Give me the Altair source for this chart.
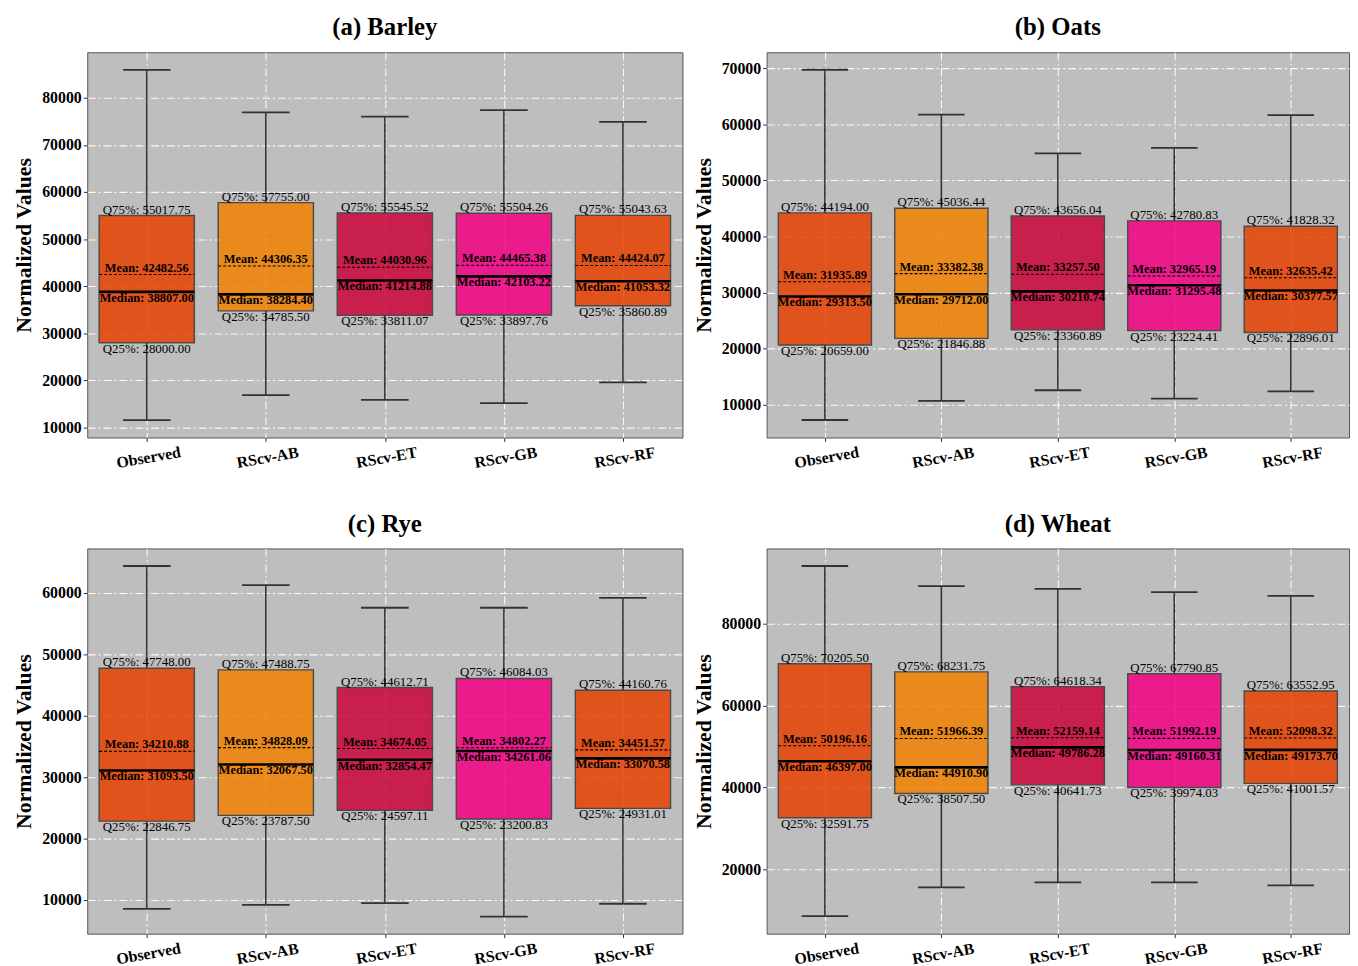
import altair as alt
import pandas as pd

models = ["Observed", "RScv-AB", "RScv-ET", "RScv-GB", "RScv-RF"]
box_colors = ["#E64100", "#F28100", "#CA0438", "#F20083", "#E64100"]

barley_q25 = [28000.00, 34785.50, 33811.07, 33897.76, 35860.89]
barley_median = [38807.00, 38284.40, 41214.88, 42103.22, 41053.32]
barley_q75 = [55017.75, 57755.00, 55545.52, 55504.26, 55043.63]
barley_mean = [42482.56, 44306.35, 44030.96, 44465.38, 44424.07]
barley_min = [11600, 16900, 15900, 15200, 19600]
barley_max = [85950, 76900, 76000, 77400, 74900]

oats_q25 = [20659.00, 21846.88, 23360.89, 23224.41, 22896.01]
oats_median = [29313.50, 29712.00, 30210.74, 31295.48, 30377.57]
oats_q75 = [44194.00, 45036.44, 43656.04, 42780.83, 41828.32]
oats_mean = [31935.89, 33382.38, 33257.50, 32965.19, 32635.42]
oats_min = [7300, 10700, 12600, 11100, 12400]
oats_max = [69700, 61700, 54800, 55800, 61600]

rye_q25 = [22846.75, 23787.50, 24597.11, 23200.83, 24931.01]
rye_median = [31093.50, 32067.50, 32854.47, 34261.06, 33070.58]
rye_q75 = [47748.00, 47488.75, 44612.71, 46084.03, 44160.76]
rye_mean = [34210.88, 34828.09, 34674.05, 34802.27, 34451.57]
rye_min = [8550, 9200, 9500, 7300, 9400]
rye_max = [64400, 61300, 57600, 57600, 59200]

wheat_q25 = [32591.75, 38507.50, 40641.73, 39974.03, 41001.57]
wheat_median = [46397.00, 44910.90, 49786.28, 49160.31, 49173.70]
wheat_q75 = [70205.50, 68231.75, 64618.34, 67790.85, 63552.95]
wheat_mean = [50196.16, 51966.39, 52159.14, 51992.19, 52098.32]
wheat_min = [8550, 15600, 16800, 16800, 16100]
wheat_max = [94100, 89200, 88500, 87700, 86800]

FONT = "Liberation Serif"
label_expr = "[" + ",".join("'%s'" % m for m in models) + "][datum.value]"


def panel(title, q25, med, q75, mean, lo, hi, domain, ticks, width):
    df = pd.DataFrame({
        "idx": list(range(len(models))), "model": models, "color": box_colors,
        "q25": q25, "median": med, "q75": q75, "mean": mean, "lo": lo, "hi": hi,
    })
    xscale = alt.Scale(domain=[-0.5, 4.5], nice=False, zero=False)
    yscale = alt.Scale(domain=domain, nice=False, zero=False)
    xaxis = alt.Axis(values=list(range(len(models))), labelExpr=label_expr, title=None,
                     labelAngle=-10, labelAlign="center", labelBaseline="top",
                     labelFont=FONT, labelFontSize=16, labelFontWeight="bold", labelColor="black",
                     labelPadding=8, tickSize=4, tickColor="#333", domain=False,
                     grid=True, gridColor="white", gridDash=[8, 3, 2, 3], gridOpacity=0.9,
                     gridWidth=1.1)
    yaxis = alt.Axis(values=ticks, title="Normalized Values", format="d",
                     labelFont=FONT, labelFontSize=16, labelFontWeight="bold", labelColor="black",
                     labelPadding=2, tickSize=4, tickColor="#333", domain=False,
                     titleFont=FONT, titleFontSize=22, titleFontWeight="bold", titleColor="black",
                     titlePadding=6,
                     grid=True, gridColor="white", gridDash=[8, 3, 2, 3], gridOpacity=0.9,
                     gridWidth=1.1)

    def X(f):
        return alt.X(f + ":Q", scale=xscale, axis=xaxis)

    def Y(f):
        return alt.Y(f + ":Q", scale=yscale, axis=yaxis)

    base = alt.Chart(df).transform_calculate(
        left="datum.idx - 0.4", right="datum.idx + 0.4",
        capl="datum.idx - 0.2", capr="datum.idx + 0.2",
        t75="'Q75%: ' + format(datum.q75, '.2f')",
        t25="'Q25%: ' + format(datum.q25, '.2f')",
        tmean="'Mean: ' + format(datum.mean, '.2f')",
        tmed="'Median: ' + format(datum.median, '.2f')",
    )
    box = base.mark_rect(stroke="#4a4a4a", strokeWidth=1.4, fillOpacity=0.85).encode(
        x=X("left"), x2="right:Q", y=Y("q25"), y2="q75:Q",
        fill=alt.Fill("color:N", scale=None))
    whisker_lo = base.mark_rule(color="#333333", strokeWidth=1.6).encode(
        x=X("idx"), y=Y("lo"), y2="q25:Q")
    whisker_hi = base.mark_rule(color="#333333", strokeWidth=1.6).encode(
        x=X("idx"), y=Y("q75"), y2="hi:Q")
    cap_lo = base.mark_rule(color="#333333", strokeWidth=1.8).encode(
        x=X("capl"), x2="capr:Q", y=Y("lo"))
    cap_hi = base.mark_rule(color="#333333", strokeWidth=1.8).encode(
        x=X("capl"), x2="capr:Q", y=Y("hi"))
    median_line = base.mark_rule(color="black", strokeWidth=2.6).encode(
        x=X("left"), x2="right:Q", y=Y("median"))
    mean_line = base.mark_rule(color="black", strokeWidth=1.1, strokeDash=[3, 2]).encode(
        x=X("left"), x2="right:Q", y=Y("mean"))
    t75 = base.mark_text(font=FONT, fontSize=13, color="black", baseline="alphabetic", dy=-2).encode(
        x=X("idx"), y=Y("q75"), text="t75:N")
    t25 = base.mark_text(font=FONT, fontSize=13, color="black", baseline="alphabetic", dy=10).encode(
        x=X("idx"), y=Y("q25"), text="t25:N")
    tmean = base.mark_text(font=FONT, fontSize=12.5, fontWeight="bold", color="black",
                           baseline="alphabetic", dy=-3).encode(
        x=X("idx"), y=Y("mean"), text="tmean:N")
    tmed = base.mark_text(font=FONT, fontSize=12.5, fontWeight="bold", color="black",
                          baseline="alphabetic", dy=10).encode(
        x=X("idx"), y=Y("median"), text="tmed:N")

    return alt.layer(box, whisker_lo, whisker_hi, cap_lo, cap_hi, median_line, mean_line,
                     t75, t25, tmean, tmed).properties(
        width=width, height=389,
        title=alt.TitleParams(title, font=FONT, fontSize=25, fontWeight="bold",
                              color="black", anchor="middle", offset=12))


a = panel("(a) Barley", barley_q25, barley_median, barley_q75, barley_mean, barley_min, barley_max,
          [7900, 89670], [10000, 20000, 30000, 40000, 50000, 60000, 70000, 80000], 601)
b = panel("(b) Oats", oats_q25, oats_median, oats_q75, oats_mean, oats_min, oats_max,
          [4180, 72820], [10000, 20000, 30000, 40000, 50000, 60000, 70000], 588)
c = panel("(c) Rye", rye_q25, rye_median, rye_q75, rye_mean, rye_min, rye_max,
          [4520, 67260], [10000, 20000, 30000, 40000, 50000, 60000], 601)
d = panel("(d) Wheat", wheat_q25, wheat_median, wheat_q75, wheat_mean, wheat_min, wheat_max,
          [4270, 98390], [20000, 40000, 60000, 80000], 588)

chart = alt.vconcat(
    alt.hconcat(a, b, spacing=8),
    alt.hconcat(c, d, spacing=8),
    spacing=40,
).properties(
    padding={"left": 4, "top": 2, "right": 0, "bottom": 0},
    background="white",
).configure_view(fill="#BEBEBE", stroke="#555555", strokeWidth=1)

chart.save("out.html", embed_options={"renderer": "svg", "actions": False})
